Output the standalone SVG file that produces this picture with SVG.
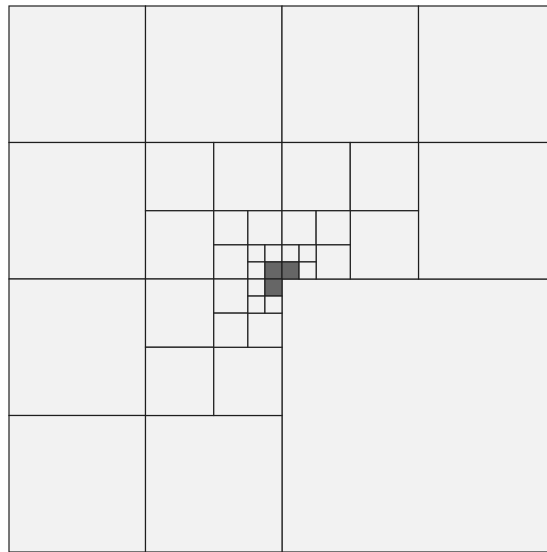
<svg xmlns="http://www.w3.org/2000/svg" width="547" height="552" viewBox="0 0 547 552">
<style>
.c,.d{stroke:#1e1e1e;stroke-width:1.2}
.c{fill:#f2f2f2}
.d{fill:#666666}
</style>
<rect x="0" y="0" width="547" height="552" fill="#ffffff"/>
<g id="level1">
<rect class="c" x="282" y="279" width="273" height="273"/>
</g>
<g id="level2">
<rect class="c" x="9" y="6" width="136.5" height="136.5"/>
<rect class="c" x="145.5" y="6" width="136.5" height="136.5"/>
<rect class="c" x="9" y="142.5" width="136.5" height="136.5"/>
<rect class="c" x="282" y="6" width="136.5" height="136.5"/>
<rect class="c" x="418.5" y="6" width="136.5" height="136.5"/>
<rect class="c" x="418.5" y="142.5" width="136.5" height="136.5"/>
<rect class="c" x="9" y="279" width="136.5" height="136.5"/>
<rect class="c" x="9" y="415.5" width="136.5" height="136.5"/>
<rect class="c" x="145.5" y="415.5" width="136.5" height="136.5"/>
</g>
<g id="level3">
<rect class="c" x="145.5" y="142.5" width="68.25" height="68.25"/>
<rect class="c" x="213.75" y="142.5" width="68.25" height="68.25"/>
<rect class="c" x="145.5" y="210.75" width="68.25" height="68.25"/>
<rect class="c" x="282" y="142.5" width="68.25" height="68.25"/>
<rect class="c" x="350.25" y="142.5" width="68.25" height="68.25"/>
<rect class="c" x="350.25" y="210.75" width="68.25" height="68.25"/>
<rect class="c" x="145.5" y="279" width="68.25" height="68.25"/>
<rect class="c" x="145.5" y="347.25" width="68.25" height="68.25"/>
<rect class="c" x="213.75" y="347.25" width="68.25" height="68.25"/>
</g>
<g id="level4">
<rect class="c" x="213.75" y="210.75" width="34.125" height="34.125"/>
<rect class="c" x="247.875" y="210.75" width="34.125" height="34.125"/>
<rect class="c" x="213.75" y="244.875" width="34.125" height="34.125"/>
<rect class="c" x="282" y="210.75" width="34.125" height="34.125"/>
<rect class="c" x="316.125" y="210.75" width="34.125" height="34.125"/>
<rect class="c" x="316.125" y="244.875" width="34.125" height="34.125"/>
<rect class="c" x="213.75" y="279" width="34.125" height="34.125"/>
<rect class="c" x="213.75" y="313.125" width="34.125" height="34.125"/>
<rect class="c" x="247.875" y="313.125" width="34.125" height="34.125"/>
</g>
<g id="level5">
<rect class="c" x="247.875" y="244.875" width="17.0625" height="17.0625"/>
<rect class="c" x="264.9375" y="244.875" width="17.0625" height="17.0625"/>
<rect class="c" x="247.875" y="261.9375" width="17.0625" height="17.0625"/>
<rect class="d" x="264.9375" y="261.9375" width="17.0625" height="17.0625"/>
<rect class="c" x="282" y="244.875" width="17.0625" height="17.0625"/>
<rect class="c" x="299.0625" y="244.875" width="17.0625" height="17.0625"/>
<rect class="d" x="282" y="261.9375" width="17.0625" height="17.0625"/>
<rect class="c" x="299.0625" y="261.9375" width="17.0625" height="17.0625"/>
<rect class="c" x="247.875" y="279" width="17.0625" height="17.0625"/>
<rect class="d" x="264.9375" y="279" width="17.0625" height="17.0625"/>
<rect class="c" x="247.875" y="296.0625" width="17.0625" height="17.0625"/>
<rect class="c" x="264.9375" y="296.0625" width="17.0625" height="17.0625"/>
</g>
</svg>
